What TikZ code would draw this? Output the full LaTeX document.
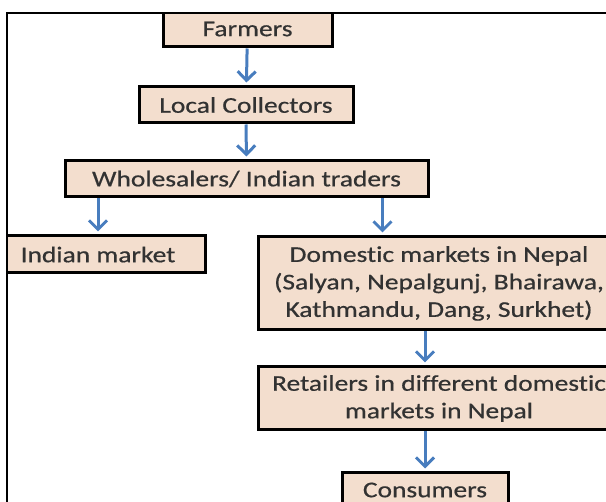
\documentclass[tikz,border=0pt]{standalone}
\usepackage{fontspec}
\setmainfont{Carlito}[FakeStretch=1.22, FakeBold=0.6, Ligatures=NoCommon]
\usetikzlibrary{arrows.meta}
\definecolor{boxfill}{RGB}{243,222,206}
\definecolor{flowblue}{RGB}{72,125,190}
\definecolor{txtgray}{RGB}{50,50,50}
\tikzset{
	box/.style={draw=black, line width=3pt, fill=boxfill, inner sep=0pt, align=center,
		text=txtgray, font=\fontsize{22.5}{27.5}\selectfont},
	flow/.style={draw=flowblue, line width=3pt, -{Straight Barb[length=9pt,width=18pt]}, shorten >=3pt}
}

\begin{document}
\begin{tikzpicture}[x=1pt,y=-1pt]
			%%%%% START %%%%%
			\useasboundingbox (0,0) rectangle (606,502);
			
			\begin{scope}
			\clip (7,13) rectangle (606,502);
			
			\node[box, minimum width=169pt, minimum height=36pt] (farm) at (247.5,29) {Farmers};
			\node[box, minimum width=214pt, minimum height=36pt] (loc) at (246,105) {Local Collectors};
			\node[box, minimum width=363pt, minimum height=36pt] (whole) at (246.5,179) {Wholesalers/ Indian traders};
			
			\node[box, minimum width=214pt, minimum height=37pt] (indian) at (98,254.5) {Indian market};
			\node[box, minimum width=362pt, minimum height=93pt] (dom) at (439,283.5)
				{Domestic markets in Nepal\\(Salyan, Nepalgunj, Bhairawa,\\Kathmandu, Dang, Surkhet)};
			\node[box, minimum width=362pt, minimum height=63pt] (ret) at (439,398.5)
				{Retailers in different domestic\\markets in Nepal};
			\node[box, minimum width=166pt, minimum height=34pt] (cons) at (425,490) {Consumers};
			
			\draw[flow] (farm) -- (loc);
			\draw[flow] (loc) -- (whole);
			\draw[flow] (whole.south -| indian.north) -- (indian.north);
			\draw[flow] ([xshift=-47pt]whole.south east) -- ([xshift=-47pt]whole.south east |- dom.north);
			\draw[flow] (dom.south -| cons.north) -- (ret.north -| cons.north);
			\draw[flow] (ret.south -| cons.north) -- (cons.north);
			\end{scope}
			
			\draw[line width=1.5pt] (7,502) -- (7,13) -- (606,13);
			%%%%% END %%%%%
\end{tikzpicture}
\end{document}
